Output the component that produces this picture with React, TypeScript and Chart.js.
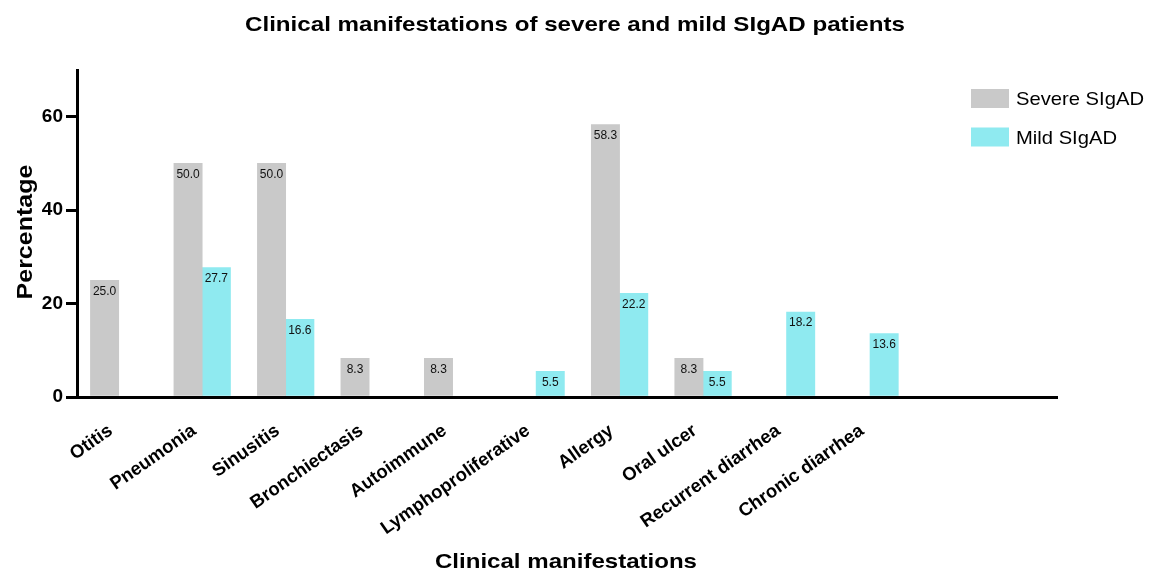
import React, { useEffect, useRef } from "react";
import { Chart, registerables } from "chart.js";

Chart.register(...registerables);

const categories = [
  "Otitis",
  "Pneumonia",
  "Sinusitis",
  "Bronchiectasis",
  "Autoimmune",
  "Lymphoproliferative",
  "Allergy",
  "Oral ulcer",
  "Recurrent diarrhea",
  "Chronic diarrhea",
];
const severeValues = [25.0, 50.0, 50.0, 8.3, 8.3, 0, 58.3, 8.3, 0, 0];
const mildValues = [0, 27.7, 16.6, 0, 0, 5.5, 22.2, 5.5, 18.2, 13.6];
const yTicks = [0, 20, 40, 60];
const seriesNames = ["Severe SIgAD", "Mild SIgAD"];
const seriesColors = ["#C9C9C9", "#8FEAF0"];

const FONT = "'Liberation Sans', Arial, Helvetica, sans-serif";
const LABEL_ANGLE = (35 * Math.PI) / 180;

function fitText(
  ctx: CanvasRenderingContext2D,
  text: string,
  x: number,
  y: number,
  font: string,
  width: number,
  rotate = 0,
  align: CanvasTextAlign = "center"
) {
  ctx.save();
  ctx.font = font;
  const w = ctx.measureText(text).width;
  const sx = width / w;
  ctx.translate(x, y);
  if (rotate) ctx.rotate(rotate);
  ctx.scale(sx, 1);
  ctx.textAlign = align;
  ctx.textBaseline = "alphabetic";
  ctx.fillStyle = "#000";
  ctx.fillText(text, 0, 0);
  ctx.restore();
}

const decorPlugin = {
  id: "decor",
  afterDatasetsDraw(chart: any) {
    const ctx = chart.ctx as CanvasRenderingContext2D;
    // value labels
    ctx.save();
    ctx.font = `12px ${FONT}`;
    ctx.fillStyle = "#111";
    ctx.textAlign = "center";
    ctx.textBaseline = "top";
    chart.data.datasets.forEach((ds: any, di: number) => {
      const meta = chart.getDatasetMeta(di);
      meta.data.forEach((bar: any, i: number) => {
        const v = ds.data[i].y;
        if (!v) return;
        ctx.fillText(v.toFixed(1), bar.x, bar.y + 5);
      });
    });
    ctx.restore();
  },
  afterDraw(chart: any) {
    const ctx = chart.ctx as CanvasRenderingContext2D;
    const xs = chart.scales.x;
    // category labels
    ctx.save();
    ctx.font = `bold 18.5px ${FONT}`;
    ctx.fillStyle = "#000";
    ctx.textAlign = "right";
    ctx.textBaseline = "middle";
    categories.forEach((c, i) => {
      const px = xs.getPixelForValue(i);
      ctx.save();
      ctx.translate(px - 8, 429);
      ctx.rotate(-LABEL_ANGLE);
      ctx.fillText(c, 0, 0);
      ctx.restore();
    });
    ctx.restore();
    // title
    fitText(ctx, "Clinical manifestations of severe and mild SIgAD patients", 575, 31, `bold 21px ${FONT}`, 660);
    // x title
    fitText(ctx, "Clinical manifestations", 566, 568, `bold 21px ${FONT}`, 262);
    // y title
    fitText(ctx, "Percentage", 32, 232, `bold 22px ${FONT}`, 135, -Math.PI / 2);
    // legend
    ctx.save();
    seriesNames.forEach((name, i) => {
      const top = 89 + i * 38.5;
      ctx.fillStyle = seriesColors[i];
      ctx.fillRect(971, top, 38, 19);
    });
    ctx.font = `19px ${FONT}`;
    const w0 = ctx.measureText(seriesNames[0]).width;
    ctx.restore();
    const sx = 128 / w0;
    seriesNames.forEach((name, i) => {
      const top = 89 + i * 38.5;
      ctx.save();
      ctx.font = `19px ${FONT}`;
      const w = ctx.measureText(name).width;
      ctx.restore();
      fitText(ctx, name, 1016, top + 16, `19px ${FONT}`, w * sx, 0, "left");
    });
  },
};

export default function App() {
  const ref = useRef<HTMLCanvasElement | null>(null);
  useEffect(() => {
    if (!ref.current) return;
    const chart = new Chart(ref.current, {
      type: "bar",
      data: {
        datasets: [
          {
            label: seriesNames[0],
            data: severeValues.map((v, i) => ({ x: i, y: v === 0 ? null : v })),
            backgroundColor: seriesColors[0],
            borderWidth: 0,
            barThickness: 28.3,
          },
          {
            label: seriesNames[1],
            data: mildValues.map((v, i) => ({ x: i, y: v === 0 ? null : v })),
            backgroundColor: seriesColors[1],
            borderWidth: 0,
            barThickness: 28.3,
          },
        ] as any,
      },
      options: {
        animation: false,
        responsive: true,
        maintainAspectRatio: false,
        layout: { padding: { top: 70, right: 94, left: 0, bottom: 0 } },
        plugins: {
          legend: { display: false },
          title: { display: false },
          tooltip: { enabled: false },
        },
        scales: {
          x: {
            type: "linear",
            min: -0.5,
            max: 11.24,
            offset: false,
            grid: { display: false },
            border: { display: true, color: "#000", width: 3 },
            ticks: { display: false, stepSize: 1 },
            afterFit: (s: any) => {
              s.height = 177;
            },
          } as any,
          y: {
            min: 0,
            max: 70,
            grid: {
              drawOnChartArea: false,
              drawTicks: true,
              tickLength: 11,
              lineWidth: 3,
              color: "#000",
            },
            border: { display: true, color: "#000", width: 3 },
            ticks: {
              stepSize: 20,
              padding: 3,
              color: "#000",
              font: { family: FONT, size: 19, weight: "bold" },
            },
            afterBuildTicks: (s: any) => {
              s.ticks = yTicks.map((v) => ({ value: v }));
            },
            afterFit: (s: any) => {
              s.width = 77;
            },
          } as any,
        },
      },
      plugins: [decorPlugin],
    });
    return () => chart.destroy();
  }, []);
  return (
    <div style={{ position: "absolute", left: 0, top: 0, width: 1151, height: 574, background: "#fff" }}>
      <canvas ref={ref} />
    </div>
  );
}
